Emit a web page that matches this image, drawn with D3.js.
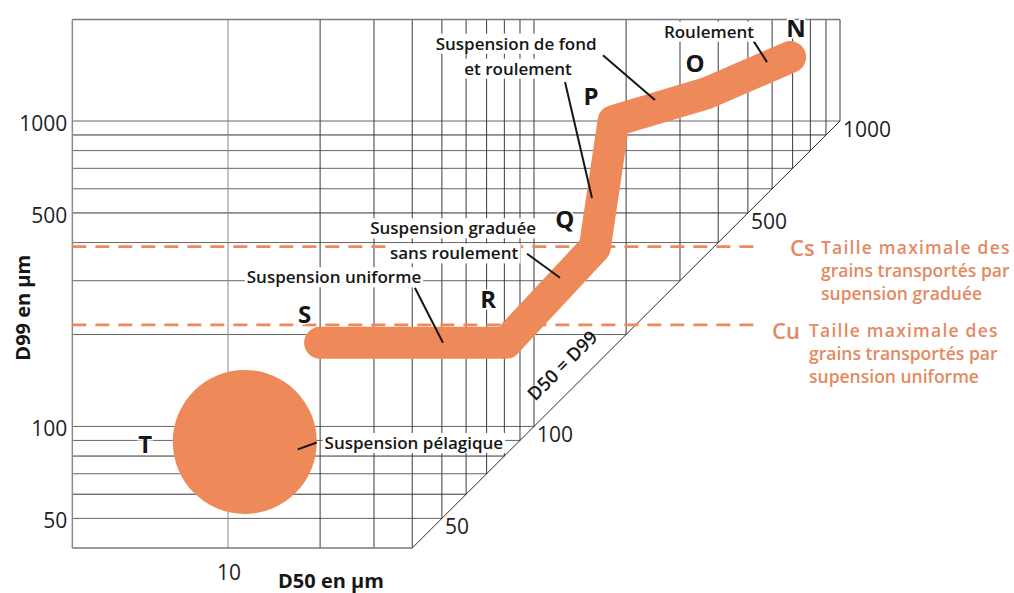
<!DOCTYPE html>
<html>
<head>
<meta charset="utf-8">
<script src="https://cdn.jsdelivr.net/npm/d3@7"></script>
<style>
  html, body { margin: 0; padding: 0; background: #fff; }
  svg { display: block; font-family: "Open Sans", "Noto Sans", sans-serif; }
</style>
</head>
<body>
<svg id="chart" width="1014" height="593"></svg>
<script>
// Passega CM diagram: coarsest percentile D99 against median D50, both in µm on log scales.

// Grid and tick values
const d50Grid = [10, 20, 30, 40, 50, 60, 70, 80, 90, 100, 200, 300, 400, 500, 600, 700, 800, 900, 1000];
const d99Grid = [50, 60, 70, 80, 90, 100, 200, 300, 400, 500, 600, 700, 800, 900, 1000];
const d99TickLabels = [50, 100, 500, 1000];
const d50TickLabels = [10];
const diagonalTickLabels = [50, 100, 500, 1000];
const d50Extent = [3.1, 1000];
const d99Extent = [40, 2150];

// Transport path S - R - Q - P - O - N
const pathD50 = [20, 81, 158, 182, 367, 687];
const pathD99 = [188, 188, 385, 1000, 1234, 1619];

// Pelagic suspension zone T
const pelagicD50 = [6.6, 19.5];
const pelagicD99 = 89;

// Limits Cs and Cu
const limitNames = ["Cs", "Cu"];
const limitD99 = [388, 215];
const limitEndD50 = 550;
const limitText = [
  ["Taille maximale des", "grains transportés par", "supension graduée"],
  ["Taille maximale des", "grains transportés par", "supension uniforme"]
];

// Segment letters
const letterNames = ["N", "O", "P", "Q", "R", "S", "T"];
const letterD50 = [718, 336, 153.5, 126, 70.8, 17.8, 5.36];
const letterD99 = [2028, 1559, 1216, 479, 262, 234, 88];

// Process labels
const labelNames = ["Suspension de fond", "et roulement", "Roulement", "Suspension graduée",
  "sans roulement", "Suspension uniforme", "Suspension pélagique"];
const labelD50 = [87.4, 88.7, 373, 54.4, 54.8, 22.2, 40.5];
const labelD99 = [1798, 1490, 1968, 447, 370, 309, 88.6];

// Leader lines from labels to the path
const leaderFrom = [[168, 1643], [126.3, 1341], [519.6, 1840], [94.9, 367.6], [40.8, 284.6], [16.9, 84.1]];
const leaderTo = [[248.5, 1171], [154.7, 560], [577.4, 1559], [121.6, 306.9], [50.4, 188], [19.5, 88.6]];

const ORANGE = "#ee8959";
const ORANGE_TEXT = "#e38a62";
const INK = "#161616";

const svg = d3.select("#chart");
const x = d3.scaleLog().domain([10, 1000]).range([228, 840]);
const y = d3.scaleLog().domain([1000, 40]).range([121, 548]);

const xL = x(d50Extent[0]);
const yT = y(d99Extent[1]);
const yB = y(d99Extent[0]);

// Grid clipped by the D50 = D99 diagonal
const grid = svg.append("g");
grid.selectAll("line.h").data(d99Grid).join("line")
  .attr("x1", xL).attr("x2", d => x(d))
  .attr("y1", d => y(d)).attr("y2", d => y(d))
  .attr("stroke", d => (d === 500 || d === 900 || d === 60 || d === 80) ? "#333" : "#666")
  .attr("stroke-width", 1);
grid.selectAll("line.v").data(d50Grid).join("line")
  .attr("x1", d => x(d)).attr("x2", d => x(d))
  .attr("y1", yT).attr("y2", d => y(Math.max(d, d99Extent[0])))
  .attr("stroke", d => d === 10 ? "#8a8a8a" : "#3c3c3c")
  .attr("stroke-width", 1);

// Frame
const frame = svg.append("g").attr("fill", "none");
frame.append("line").attr("x1", xL).attr("x2", x(1000)).attr("y1", yT).attr("y2", yT)
  .attr("stroke", "#7a7a7a").attr("stroke-width", 1.5);
frame.append("line").attr("x1", xL).attr("x2", xL).attr("y1", yT).attr("y2", yB)
  .attr("stroke", "#8a8a8a").attr("stroke-width", 1.5);
frame.append("line").attr("x1", xL).attr("x2", x(d99Extent[0])).attr("y1", yB).attr("y2", yB)
  .attr("stroke", "#7a7a7a").attr("stroke-width", 1.5);
frame.append("line")
  .attr("x1", x(d99Extent[0])).attr("y1", y(d99Extent[0]))
  .attr("x2", x(1000)).attr("y2", y(1000))
  .attr("stroke", "#2a2a2a").attr("stroke-width", 1);

// Limit lines
svg.append("g").selectAll("line").data(limitD99).join("line")
  .attr("x1", xL).attr("x2", x(limitEndD50))
  .attr("y1", d => y(d)).attr("y2", d => y(d))
  .attr("stroke", ORANGE).attr("stroke-width", 2.6)
  .attr("stroke-dasharray", "14 9");

// Pelagic zone
svg.append("circle")
  .attr("cx", (x(pelagicD50[0]) + x(pelagicD50[1])) / 2)
  .attr("cy", y(pelagicD99))
  .attr("r", (x(pelagicD50[1]) - x(pelagicD50[0])) / 2)
  .attr("fill", ORANGE);

// Transport path
const line = d3.line().x(d => x(d[0])).y(d => y(d[1]));
svg.append("path")
  .datum(pathD50.map((d, i) => [d, pathD99[i]]))
  .attr("d", line)
  .attr("fill", "none")
  .attr("stroke", ORANGE).attr("stroke-width", 32)
  .attr("stroke-linejoin", "round").attr("stroke-linecap", "round");

// Leader lines
svg.append("g").selectAll("line").data(leaderFrom).join("line")
  .attr("x1", d => x(d[0])).attr("y1", d => y(d[1]))
  .attr("x2", (d, i) => x(leaderTo[i][0])).attr("y2", (d, i) => y(leaderTo[i][1]))
  .attr("stroke", INK).attr("stroke-width", 2);

// Process labels on a white ground
const labels = svg.append("g");
labelNames.forEach((t, i) => {
  const g = labels.append("g");
  const txt = g.append("text")
    .attr("x", x(labelD50[i])).attr("y", y(labelD99[i]))
    .attr("text-anchor", "middle").attr("dominant-baseline", "central")
    .attr("font-size", 17).attr("font-weight", 600).attr("fill", INK)
    .text(t);
  const b = txt.node().getBBox();
  g.insert("rect", "text")
    .attr("x", b.x - 2).attr("y", b.y + 2).attr("width", b.width + 4).attr("height", b.height - 3)
    .attr("fill", "#fff");
});

// Segment letters
svg.append("g").selectAll("text").data(letterNames).join("text")
  .attr("x", (d, i) => x(letterD50[i])).attr("y", (d, i) => y(letterD99[i]))
  .attr("text-anchor", "middle").attr("dominant-baseline", "central")
  .attr("font-size", 24).attr("font-weight", 700).attr("fill", INK)
  .attr("stroke", "#fff").attr("stroke-width", 3).attr("paint-order", "stroke")
  .text(d => d);

// Diagonal label
const diagMid = 140;
svg.append("text")
  .attr("transform", `translate(${x(diagMid) - 17},${y(diagMid) - 17}) rotate(-45)`)
  .attr("text-anchor", "middle").attr("dominant-baseline", "central")
  .attr("font-size", 18.5).attr("font-weight", 600).attr("fill", INK)
  .text("D50 = D99");

// Tick labels
const ticks = svg.append("g").attr("font-size", 21).attr("fill", "#1e1e1e");
ticks.selectAll("text.y").data(d99TickLabels).join("text")
  .attr("x", xL - 5).attr("y", d => y(d) + 2)
  .attr("text-anchor", "end").attr("dominant-baseline", "central")
  .text(d => d);
ticks.selectAll("text.x").data(d50TickLabels).join("text")
  .attr("x", d => x(d) + 1).attr("y", yB + 24)
  .attr("text-anchor", "middle").attr("dominant-baseline", "central")
  .text(d => d);
ticks.selectAll("text.d").data(diagonalTickLabels).join("text")
  .attr("x", d => x(d) + 3).attr("y", d => y(d) + 8)
  .attr("text-anchor", "start").attr("dominant-baseline", "central")
  .text(d => d);

// Axis titles
svg.append("text")
  .attr("x", 331).attr("y", 580)
  .attr("text-anchor", "middle").attr("dominant-baseline", "central")
  .attr("font-size", 20).attr("font-weight", 700).attr("fill", INK)
  .text("D50 en µm");
svg.append("text")
  .attr("transform", `translate(22,${(yT + yB) / 2 + 24}) rotate(-90)`)
  .attr("text-anchor", "middle").attr("dominant-baseline", "central")
  .attr("font-size", 20).attr("font-weight", 700).attr("fill", INK)
  .text("D99 en µm");

// Limit legends
const legendOffsets = [[790, 821, 0], [772, 809, 5]];
limitNames.forEach((name, i) => {
  const [xName, xText, dy] = legendOffsets[i];
  const y0 = y(limitD99[i]) + dy;
  const g = svg.append("g").attr("fill", ORANGE_TEXT);
  g.append("text")
    .attr("x", xName).attr("y", y0).attr("dominant-baseline", "central")
    .attr("font-size", 22).attr("font-weight", 600)
    .text(name);
  const rows = limitText[i].map((t, j) => g.append("text")
    .attr("x", xText).attr("y", y0 + j * 23).attr("dominant-baseline", "central")
    .attr("font-size", 17.5).attr("font-weight", 600)
    .text(t));
  const w = rows[1].node().getComputedTextLength();
  rows[0].attr("textLength", w).attr("lengthAdjust", "spacing");
});
</script>
</body>
</html>
